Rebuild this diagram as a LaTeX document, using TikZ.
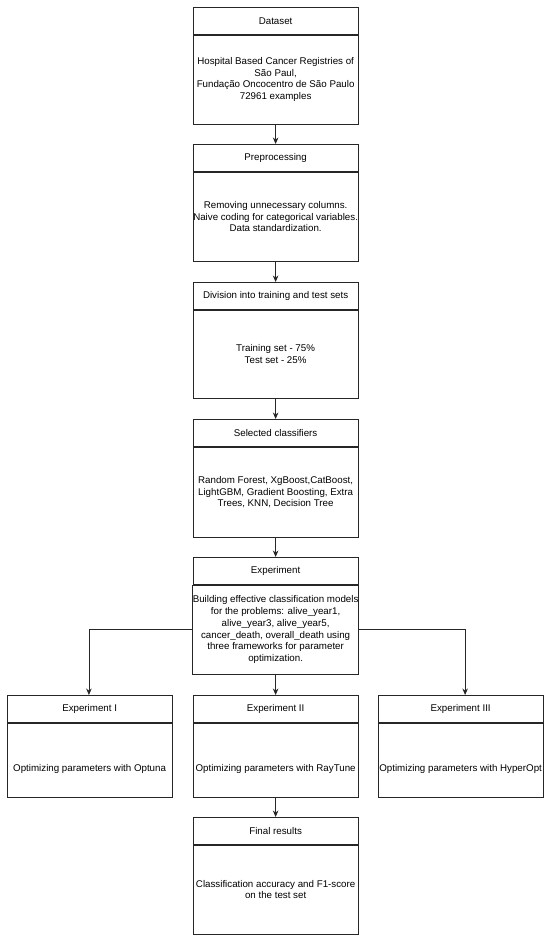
\documentclass[tikz,border=0pt]{standalone}
\usepackage{fontspec}
\setmainfont{Liberation Sans}
\usetikzlibrary{arrows.meta}
\begin{document}
\begin{tikzpicture}[x=1pt,y=-1pt,
  boxline/.style={draw=black!85, line width=0.75pt},
  hdr/.style={boxline, minimum width=164.5pt, minimum height=27pt, inner sep=0pt, anchor=north west,
    font=\fontsize{9.75}{11.7}\selectfont},
  bodybox/.style={boxline, minimum width=164.5pt, inner sep=0pt, anchor=north, align=center,
    font=\fontsize{9.75}{11.7}\selectfont},
  arr/.style={draw=black!85, line width=0.8pt, -{Stealth[length=6.5pt,width=5.5pt]}}]
\useasboundingbox[fill=white] (0,0) rectangle (550,940);

\node[hdr] (h1) at (193,7) {Dataset};
\node[bodybox, minimum height=89pt] (b1) at (h1.south) {Hospital Based Cancer Registries of\\São Paul,\\Fundação Oncocentro de São Paulo\\72961 examples};

\node[hdr] (h2) at (193,144) {Preprocessing};
\node[bodybox, minimum height=89pt] (b2) at (h2.south) {Removing unnecessary columns.\\Naive coding for categorical variables.\\Data standardization.};

\node[hdr] (h3) at (193,282) {Division into training and test sets};
\node[bodybox, minimum height=88pt] (b3) at (h3.south) {Training set - 75\%\\Test set - 25\%};

\node[hdr] (h4) at (193,419) {Selected classifiers};
\node[bodybox, minimum height=90pt] (b4) at (h4.south) {Random Forest, XgBoost,CatBoost,\\LightGBM, Gradient Boosting, Extra\\Trees, KNN, Decision Tree};

\node[hdr] (h5) at (193,557) {Experiment};
\node[bodybox, minimum height=89pt] (b5) at (h5.south) {Building effective classification models\\for the problems: alive\_year1,\\alive\_year3, alive\_year5,\\cancer\_death, overall\_death using\\three frameworks for parameter\\optimization.};

\node[hdr] (h6) at (7,695) {Experiment I};
\node[bodybox, minimum height=74pt, text height=25pt] (b6) at (h6.south) {Optimizing parameters with Optuna};

\node[hdr] (h7) at (193,695) {Experiment II};
\node[bodybox, minimum height=74pt, text height=25pt] (b7) at (h7.south) {Optimizing parameters with RayTune};

\node[hdr] (h8) at (378,695) {Experiment III};
\node[bodybox, minimum height=74pt, text height=25pt] (b8) at (h8.south) {Optimizing parameters with HyperOpt};

\node[hdr] (h9) at (193,817) {Final results};
\node[bodybox, minimum height=89pt] (b9) at (h9.south) {Classification accuracy and F1-score\\on the test set};

\draw[arr] (b1.south) -- (h2.north);
\draw[arr] (b2.south) -- (h3.north);
\draw[arr] (b3.south) -- (h4.north);
\draw[arr] (b4.south) -- (h5.north);
\draw[arr] (b5.south) -- (h7.north);
\draw[arr] (b5.west) -| ([xshift=-0.7pt]h6.north);
\draw[arr] (b5.east) -| ([xshift=4.5pt]h8.north);
\draw[arr] (b7.south) -- (h9.north);
\end{tikzpicture}
\end{document}
